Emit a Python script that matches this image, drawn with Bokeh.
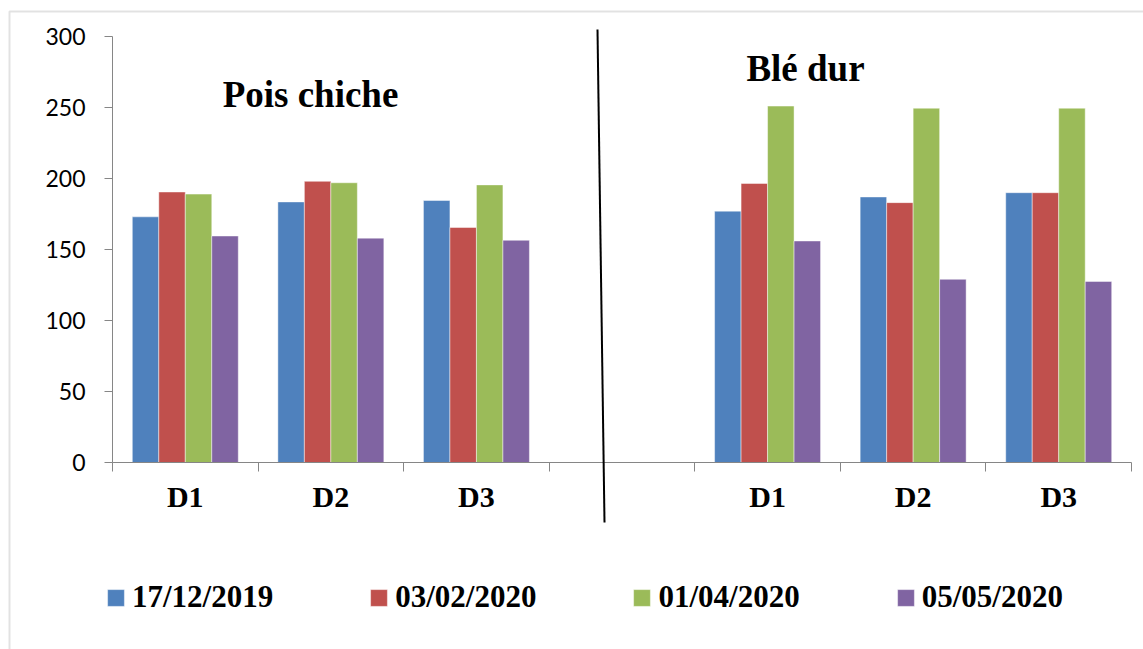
from bokeh.plotting import figure
from bokeh.models import (Range1d, FixedTicker, Legend, LegendItem, Label,
                          Arrow, BoxAnnotation)
from bokeh.embed import file_html
from bokeh.resources import INLINE

# x slots: three doses per crop, with an empty slot separating the crops
slots = ["D1", "D2", "D3", "", "D1", "D2", "D3"]
crops = ["Pois chiche", "Blé dur"]
dates = ["17/12/2019", "03/02/2020", "01/04/2020", "05/05/2020"]
colors = ["#4F81BD", "#C0504D", "#9BBB59", "#8064A2"]
y_ticks = [0, 50, 100, 150, 200, 250, 300]

# values per sampling date: Pois chiche D1-D3, then Blé dur D1-D3
v_17_12_2019 = [173.0, 183.5, 184.5, 177.0, 187.0, 190.0]
v_03_02_2020 = [190.5, 198.0, 165.5, 196.5, 183.0, 190.0]
v_01_04_2020 = [189.0, 197.0, 195.5, 251.0, 249.5, 249.5]
v_05_05_2020 = [159.5, 158.0, 156.5, 156.0, 129.0, 127.5]
series = [v_17_12_2019, v_03_02_2020, v_01_04_2020, v_05_05_2020]

SERIF = "Liberation Serif"
SANS = "Lato"
AXIS_GREY = "#868686"

W, H = 1143, 649
# the plotting frame fills the whole canvas so that the crop names, the
# divider, the legend and the chart border can sit outside the axes box
AX_L, AX_R, AX_T, AX_B = 112, 1131, 36, 462
Y_MAX = 300
sx = (AX_R - AX_L) / len(slots)
sy = (AX_B - AX_T) / Y_MAX


def px_x(px):
    return (px - AX_L) / sx


def px_y(py):
    return (AX_B - py) / sy


p = figure(width=W, height=H, output_backend="svg", toolbar_location=None,
           x_range=Range1d(px_x(0), px_x(W)), y_range=Range1d(px_y(H), px_y(0)),
           min_border=0)
p.grid.visible = False
p.outline_line_color = None
p.background_fill_color = "white"
p.border_fill_color = "white"

# bars
filled = [i for i, s in enumerate(slots) if s]
bar_w = 0.182
renderers = []
for k, (vals, col) in enumerate(zip(series, colors)):
    xs = [i + 0.5 + (k - 1.5) * bar_w for i in filled]
    r = p.vbar(x=xs, top=vals, bottom=0, width=bar_w, fill_color=col,
               line_color="white", line_alpha=0.45, line_width=1)
    renderers.append(r)

# x axis: boundary ticks as minor ticks, labels at slot centres
xa = p.xaxis[0]
xa.fixed_location = 0
xa.bounds = (0, len(slots))
centres = [i + 0.5 for i in range(len(slots))]
xa.ticker = FixedTicker(ticks=centres, minor_ticks=list(range(len(slots) + 1)))
xa.major_label_overrides = {c: s for c, s in zip(centres, slots)}
xa.major_tick_in = 0
xa.major_tick_out = 9
xa.major_tick_line_alpha = 0
xa.minor_tick_in = 0
xa.minor_tick_out = 9
xa.minor_tick_line_color = AXIS_GREY
xa.axis_line_color = AXIS_GREY
xa.major_label_text_font = SERIF
xa.major_label_text_font_style = "bold"
xa.major_label_text_font_size = "30px"
xa.major_label_text_color = "black"
xa.major_label_standoff = 8

ya = p.yaxis[0]
ya.fixed_location = 0
ya.bounds = (0, Y_MAX)
ya.ticker = FixedTicker(ticks=y_ticks)
ya.minor_tick_line_color = None
ya.major_tick_in = 0
ya.major_tick_out = 8
ya.major_tick_line_color = AXIS_GREY
ya.axis_line_color = AXIS_GREY
ya.major_label_text_font = SANS
ya.major_label_text_font_size = "23px"
ya.major_label_text_color = "black"
ya.major_label_standoff = 19

# crop names
p.add_layout(Label(x=px_x(310), y=px_y(94), text=crops[0], text_align="center",
                   text_baseline="alphabetic",
                   text_font=SERIF, text_font_style="bold",
                   text_font_size="37px", text_color="black"))
p.add_layout(Label(x=px_x(805), y=px_y(68), text=crops[1], text_align="center",
                   text_baseline="alphabetic",
                   text_font=SERIF, text_font_style="bold",
                   text_font_size="37px", text_color="black"))

# hand-drawn divider between the two crops
p.add_layout(Arrow(end=None, x_start=px_x(597), y_start=px_y(29),
                   x_end=px_x(604), y_end=px_y(522),
                   line_color="black", line_width=2))

# outer chart border (its right and bottom edges lie past the canvas)
p.add_layout(BoxAnnotation(left=px_x(9), right=px_x(W + 20),
                           top=px_y(11), bottom=px_y(H + 20),
                           fill_alpha=0, line_color="#a0a0a0", line_width=2))

legend = Legend(items=[LegendItem(label=d, renderers=[r])
                       for d, r in zip(dates, renderers)],
                orientation="horizontal", location=(105, 34),
                glyph_width=21, glyph_height=21, label_standoff=6,
                spacing=95, padding=0, margin=0,
                label_text_font=SERIF, label_text_font_style="bold",
                label_text_font_size="31px", label_text_color="black",
                border_line_alpha=0, background_fill_alpha=0)
p.add_layout(legend)

open("out.html", "w").write(file_html(p, INLINE))
